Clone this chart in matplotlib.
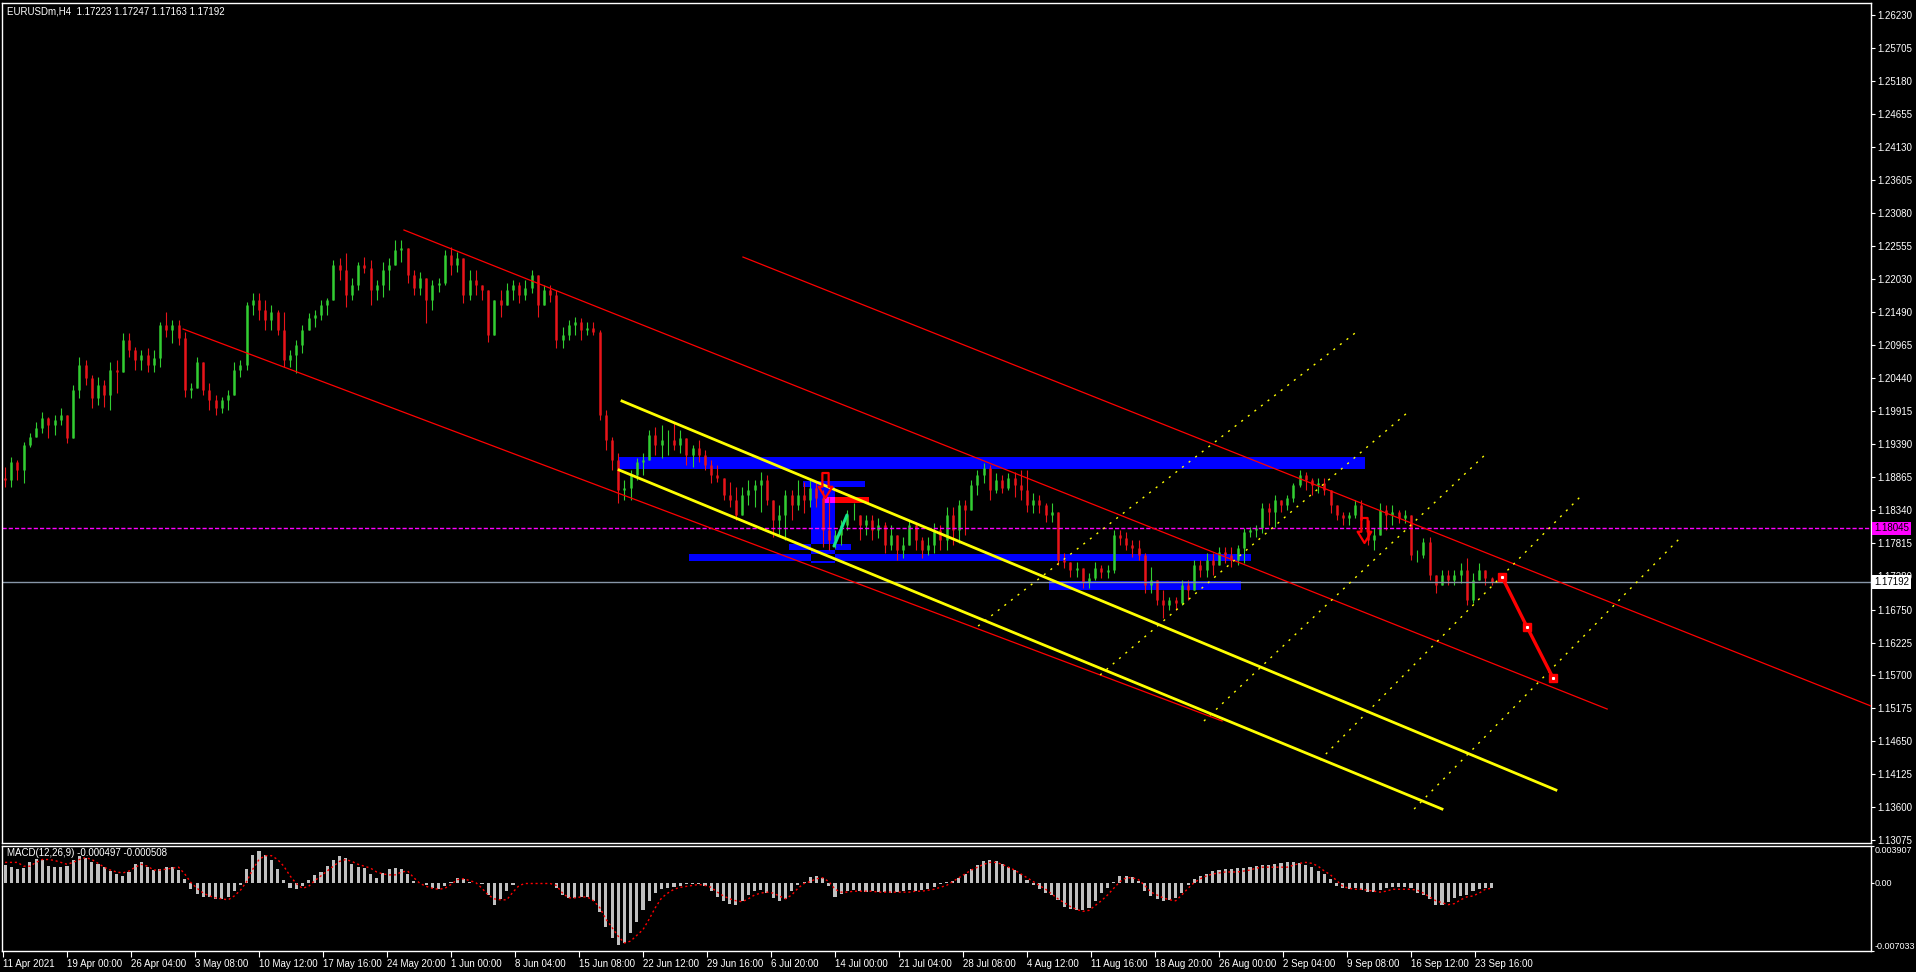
import numpy as np
import matplotlib
matplotlib.use("Agg")
import matplotlib.pyplot as plt
from matplotlib.colors import to_rgb
from matplotlib.patches import Rectangle
from matplotlib.path import Path
from matplotlib.transforms import blended_transform_factory

plt.rcParams['font.family'] = ['Liberation Sans', 'DejaVu Sans']

# ---- data (EURUSDm H4, each candle = 3 H4 bars, prices in pips) ----
first_open = 11885
highs = [11903, 11918, 11914, 11942, 11957, 11974, 11990, 11982, 11985, 11997,
         11977, 12033, 12078, 12073, 12049, 12046, 12041, 12070, 12073, 12116,
         12116, 12094, 12089, 12092, 12089, 12134, 12150, 12137, 12137, 12118,
         12037, 12078, 12065, 12037, 12017, 12014, 12025, 12070, 12073, 12166,
         12180, 12180, 12169, 12161, 12153, 12150, 12089, 12105, 12129, 12148,
         12153, 12169, 12172, 12233, 12236, 12244, 12204, 12230, 12238, 12233,
         12201, 12230, 12236, 12265, 12265, 12245, 12217, 12214, 12201, 12201,
         12204, 12249, 12253, 12245, 12228, 12217, 12217, 12193, 12185, 12169,
         12185, 12196, 12201, 12198, 12201, 12217, 12193, 12193, 12193, 12185,
         12126, 12137, 12142, 12140, 12134, 12134, 12121, 11993, 11950, 11925,
         11882, 11898, 11917, 11925, 11962, 11966, 11970, 11962, 11973, 11962,
         11946, 11938, 11946, 11930, 11914, 11906, 11882, 11879, 11871, 11871,
         11882, 11882, 11895, 11890, 11834, 11842, 11866, 11866, 11882, 11879,
         11882, 11879, 11866, 11855, 11802, 11818, 11834, 11845, 11826, 11826,
         11826, 11821, 11815, 11810, 11791, 11791, 11818, 11815, 11791, 11791,
         11813, 11810, 11839, 11839, 11850, 11850, 11882, 11898, 11909, 11906,
         11893, 11890, 11893, 11895, 11898, 11898, 11861, 11858, 11845, 11845,
         11823, 11765, 11751, 11751, 11733, 11733, 11751, 11746, 11746, 11802,
         11802, 11799, 11786, 11786, 11765, 11743, 11722, 11706, 11695, 11695,
         11722, 11722, 11754, 11754, 11765, 11765, 11775, 11775, 11775, 11778,
         11805, 11807, 11810, 11845, 11845, 11858, 11850, 11858, 11877, 11898,
         11895, 11885, 11885, 11885, 11861, 11842, 11831, 11831, 11850, 11850,
         11818, 11805, 11845, 11842, 11842, 11834, 11834, 11826, 11770, 11789,
         11791, 11730, 11738, 11738, 11738, 11749, 11757, 11733, 11749, 11738, 11727]
lows = [11871, 11871, 11882, 11877, 11934, 11950, 11957, 11949, 11954, 11970,
        11941, 11954, 12013, 12033, 11997, 12001, 11998, 11993, 12021, 12068,
        12078, 12057, 12057, 12054, 12054, 12062, 12110, 12100, 12097, 12014,
        12013, 12030, 12017, 11993, 11985, 11989, 11993, 12021, 12046, 12057,
        12145, 12137, 12121, 12121, 12113, 12062, 12062, 12052, 12084, 12126,
        12126, 12137, 12145, 12169, 12201, 12158, 12169, 12185, 12212, 12161,
        12169, 12174, 12185, 12225, 12230, 12196, 12177, 12177, 12132, 12153,
        12182, 12193, 12209, 12214, 12164, 12169, 12177, 12169, 12102, 12113,
        12142, 12164, 12169, 12164, 12169, 12180, 12142, 12166, 12166, 12092,
        12092, 12105, 12113, 12105, 12113, 12113, 11977, 11930, 11898, 11845,
        11850, 11850, 11882, 11890, 11914, 11922, 11917, 11922, 11930, 11925,
        11906, 11903, 11911, 11898, 11877, 11879, 11850, 11839, 11818, 11826,
        11842, 11839, 11831, 11842, 11791, 11794, 11786, 11818, 11834, 11829,
        11839, 11839, 11775, 11770, 11773, 11778, 11802, 11818, 11786, 11794,
        11786, 11789, 11765, 11770, 11754, 11757, 11778, 11770, 11757, 11762,
        11765, 11770, 11770, 11778, 11781, 11794, 11839, 11858, 11877, 11850,
        11861, 11861, 11866, 11855, 11850, 11831, 11829, 11829, 11815, 11815,
        11746, 11741, 11727, 11727, 11709, 11709, 11722, 11725, 11725, 11733,
        11778, 11770, 11759, 11754, 11701, 11701, 11682, 11662, 11674, 11674,
        11682, 11690, 11706, 11727, 11727, 11730, 11749, 11749, 11743, 11746,
        11749, 11791, 11791, 11797, 11810, 11807, 11831, 11834, 11847, 11871,
        11866, 11858, 11861, 11858, 11829, 11818, 11810, 11810, 11821, 11805,
        11778, 11770, 11794, 11802, 11810, 11813, 11813, 11754, 11751, 11757,
        11722, 11701, 11714, 11714, 11714, 11717, 11682, 11686, 11722, 11714, 11714]
closes = [11882, 11911, 11898, 11938, 11950, 11965, 11981, 11970, 11977, 11985,
          11949, 12025, 12065, 12044, 12013, 12033, 12017, 12057, 12054, 12105,
          12089, 12073, 12081, 12065, 12076, 12129, 12121, 12129, 12108, 12025,
          12029, 12070, 12025, 12009, 11997, 12009, 12017, 12057, 12065, 12161,
          12169, 12153, 12137, 12150, 12121, 12073, 12081, 12097, 12121, 12140,
          12145, 12161, 12169, 12225, 12217, 12177, 12193, 12225, 12220, 12185,
          12193, 12217, 12225, 12249, 12252, 12209, 12188, 12204, 12169, 12193,
          12196, 12241, 12225, 12236, 12177, 12201, 12193, 12185, 12113, 12169,
          12161, 12185, 12193, 12177, 12188, 12209, 12161, 12185, 12177, 12105,
          12113, 12129, 12134, 12121, 12124, 12118, 11985, 11946, 11914, 11866,
          11869, 11890, 11911, 11914, 11954, 11938, 11946, 11946, 11938, 11949,
          11922, 11933, 11922, 11906, 11890, 11885, 11858, 11850, 11826, 11858,
          11866, 11874, 11882, 11850, 11818, 11826, 11858, 11842, 11858, 11850,
          11869, 11853, 11802, 11786, 11794, 11810, 11826, 11826, 11810, 11818,
          11802, 11810, 11778, 11794, 11770, 11778, 11810, 11786, 11770, 11778,
          11802, 11786, 11826, 11802, 11842, 11834, 11874, 11890, 11901, 11866,
          11882, 11869, 11885, 11874, 11866, 11842, 11850, 11842, 11826, 11831,
          11754, 11751, 11738, 11741, 11719, 11725, 11741, 11735, 11738, 11794,
          11789, 11778, 11773, 11762, 11714, 11722, 11690, 11682, 11690, 11686,
          11714, 11706, 11746, 11738, 11754, 11746, 11767, 11762, 11754, 11773,
          11799, 11802, 11805, 11837, 11831, 11850, 11842, 11853, 11874, 11890,
          11882, 11874, 11877, 11866, 11842, 11826, 11821, 11826, 11842, 11818,
          11786, 11794, 11834, 11826, 11831, 11821, 11826, 11762, 11762, 11783,
          11730, 11714, 11730, 11722, 11730, 11738, 11690, 11722, 11738, 11725, 11719]

# MACD histogram and signal, units of 1e-4
macd_hist = [19, 17, 15, 16, 22, 26, 24, 18, 17, 17,
             18, 24, 29, 27, 22, 20, 17, 13, 10, 8,
             12, 20, 22, 17, 14, 15, 17, 17, 14, 5,
             -6, -11, -14, -14, -16, -16, -14, -8, -2, 15,
             30, 34, 30, 24, 15, 4, -5, -6, -3, 4,
             9, 12, 18, 25, 29, 27, 20, 17, 16, 10,
             6, 11, 15, 16, 15, 10, 3, 0, -2, -5,
             -6, -3, 2, 6, 5, 2, 1, -1, -12, -22,
             -16, -8, -2, 1, 1, 1, 0, 1, 1, -5,
             -12, -15, -15, -14, -14, -18, -30, -45, -57, -64,
             -62, -52, -40, -28, -18, -10, -6, -5, -4, -3,
             -1, -1, -1, -3, -8, -14, -18, -21, -22, -18,
             -12, -8, -7, -10, -15, -18, -16, -8, -2, 2,
             7, 8, 6, -3, -14, -11, -8, -7, -8, -9,
             -8, -9, -9, -10, -9, -8, -7, -8, -7, -6,
             -4, -1, 2, 3, 6, 10, 15, 19, 23, 24,
             23, 20, 17, 14, 10, 4, -2, -6, -10, -12,
             -17, -24, -27, -28, -28, -26, -18, -10, -5, 2,
             8, 8, 7, 3, -8, -13, -16, -18, -17, -15,
             -10, -2, 5, 8, 10, 13, 14, 15, 15, 16,
             16, 17, 18, 19, 19, 20, 21, 22, 22, 21,
             19, 17, 13, 10, 5, -3, -5, -6, -5, -7,
             -9, -9, -7, -5, -4, -4, -4, -5, -10, -12,
             -16, -22, -22, -19, -15, -13, -12, -8, -6, -5, -5]
macd_signal = [22, 22, 22, 18, 18, 22, 25, 25, 24, 22,
               20, 22, 25, 27, 25, 21, 17, 14, 12, 11,
               13, 17, 20, 18, 14, 14, 15, 16, 17, 10,
               1, -5, -10, -13, -15, -16, -17, -13, -7, 2,
               15, 25, 29, 29, 25, 18, 8, 0, -5, -3,
               3, 8, 13, 18, 23, 25, 23, 20, 18, 16,
               12, 10, 9, 9, 12, 13, 6, 0, -3, -5,
               -6, -5, -1, 4, 5, 3, 1, -5, -12, -16,
               -17, -17, -9, -2, 0, 0, 0, 0, 0, -2,
               -10, -15, -15, -14, -14, -18, -25, -37, -46, -55,
               -62, -60, -54, -48, -37, -25, -15, -10, -6, -4,
               -3, -2, -1, -2, -4, -9, -13, -16, -18, -19,
               -16, -12, -10, -9, -10, -13, -16, -12, -5, 0,
               2, 5, 6, 2, -6, -9, -9, -8, -8, -8,
               -8, -9, -9, -9, -9, -9, -9, -8, -8, -7,
               -6, -4, -2, 2, 6, 10, 14, 17, 20, 22,
               22, 20, 17, 14, 10, 6, 2, -2, -6, -11,
               -16, -20, -24, -27, -29, -28, -23, -18, -12, -5,
               2, 6, 6, 4, -2, -9, -12, -15, -17, -18,
               -12, -5, 1, 5, 8, 10, 11, 12, 12, 12,
               13, 14, 16, 17, 17, 17, 17, 17, 19, 21,
               22, 21, 18, 13, 9, 3, -3, -5, -6, -6,
               -7, -8, -9, -8, -6, -6, -6, -6, -7, -10,
               -14, -18, -20, -22, -21, -17, -14, -13, -10, -6, -5]

date_bars = [0, 31, 62, 93, 124, 155, 186, 217, 248, 279, 310, 341,
             372, 403, 434, 465, 496, 527, 558, 589, 620, 651, 682, 713]
date_labels = ["11 Apr 2021", "19 Apr 00:00", "26 Apr 04:00", "3 May 08:00",
               "10 May 12:00", "17 May 16:00", "24 May 20:00", "1 Jun 00:00",
               "8 Jun 04:00", "15 Jun 08:00", "22 Jun 12:00", "29 Jun 16:00",
               "6 Jul 20:00", "14 Jul 00:00", "21 Jul 04:00", "28 Jul 08:00",
               "4 Aug 12:00", "11 Aug 16:00", "18 Aug 20:00", "26 Aug 00:00",
               "2 Sep 04:00", "9 Sep 08:00", "16 Sep 12:00", "23 Sep 16:00"]
price_ticks = [1.26230, 1.25705, 1.25180, 1.24655, 1.24130, 1.23605, 1.23080,
               1.22555, 1.22030, 1.21490, 1.20965, 1.20440, 1.19915, 1.19390,
               1.18865, 1.18340, 1.17815, 1.17280, 1.16750, 1.16225, 1.15700,
               1.15175, 1.14650, 1.14125, 1.13600, 1.13075]

# trendlines: (bar0, price0, bar1, price1)
red_lines = [(87.2, 1.21226, 590.5, 1.14973),
             (194.2, 1.22805, 777.0, 1.15164),
             (358.4, 1.22374, 904.8, 1.15212)]
yellow_lines = [(299.8, 1.20077, 752.2, 1.13872),
                (298.4, 1.18977, 697.0, 1.13569)]
yellow_dotted = [(472.3, 1.16488, 656.8, 1.21210),
                 (531.4, 1.15707, 680.6, 1.19902),
                 (581.7, 1.14973, 719.3, 1.19264),
                 (637.9, 1.14351, 764.8, 1.18578),
                 (683.5, 1.13569, 812.3, 1.17892)]
green_line = (402.5, 1.17764, 408.8, 1.18259)
path_bars = [726.1, 738.2, 750.8]
path_prices = [1.17270, 1.16472, 1.15659]

# rectangles: (bar0, bar1, price_low, price_high, colour)
rects = [(298.4, 659.7, 1.18993, 1.19184, '#0000ff'),
         (332.3, 604.5, 1.17525, 1.17637, '#0000ff'),
         (506.7, 599.7, 1.17063, 1.17206, '#0000ff'),
         (391.4, 403.0, 1.17493, 1.18706, '#0000ff'),
         (387.5, 417.5, 1.18706, 1.18801, '#0000ff'),
         (380.7, 410.8, 1.17701, 1.17796, '#0000ff'),
         (397.2, 419.5, 1.18450, 1.18546, '#ff0000')]
arrow_bars = [398.2, 659.2]
arrow_prices = [1.18745, 1.18020]

level_magenta = 1.18045
level_bid = 1.17192

# ---- figure ----
W, H = 1916, 972
fig = plt.figure(figsize=(W / 100, H / 100), dpi=100, facecolor='black')
ax = fig.add_axes([2 / W, 1 - 843 / H, 1869 / W, 840 / H])
axm = fig.add_axes([2 / W, 1 - 951 / H, 1869 / W, 105 / H])
for a in (ax, axm):
    a.set_facecolor('black')
    for s in a.spines.values():
        s.set_color('white')
        s.set_linewidth(1)
    a.set_xlim(-0.5, 904.8)

ax.set_ylim(1.13027, 1.26426)
axm.set_ylim(-0.007033, 0.003907)

# rectangles, overlaps shown like MT4 (xor of colours)
for x0, x1, y0, y1, c in rects:
    ax.add_patch(Rectangle((x0, y0), x1 - x0, y1 - y0, facecolor=c, edgecolor='none', zorder=1))
for i in range(len(rects)):
    for j in range(i + 1, len(rects)):
        a, b = rects[i], rects[j]
        ix0, ix1 = max(a[0], b[0]), min(a[1], b[1])
        iy0, iy1 = max(a[2], b[2]), min(a[3], b[3])
        if ix1 > ix0 and iy1 > iy0:
            ca = [int(round(v * 255)) for v in to_rgb(a[4])]
            cb = [int(round(v * 255)) for v in to_rgb(b[4])]
            cx = tuple((p ^ q) / 255 for p, q in zip(ca, cb))
            ax.add_patch(Rectangle((ix0, iy0), ix1 - ix0, iy1 - iy0, facecolor=cx,
                                   edgecolor='none', zorder=1.1))

# candles
c = np.array(closes) / 1e4
hi = np.array(highs) / 1e4
lo = np.array(lows) / 1e4
o = np.r_[first_open / 1e4, c[:-1]]
xs = np.arange(len(c)) * 3 + 1
up = c >= o
cols = np.where(up, '#32cd32', '#e8141a')
hi = np.maximum(hi, np.maximum(o, c))
lo = np.minimum(lo, np.minimum(o, c))
ax.vlines(xs, lo, hi, colors=cols, lw=0.8, zorder=2)
ax.vlines(xs, np.minimum(o, c), np.maximum(o, c), colors=cols, lw=1.8, zorder=2)

# horizontal levels
ax.axhline(level_magenta, color='#ff00ff', lw=1, ls=(0, (3, 1.5)), zorder=2.5)
ax.axhline(level_bid, color='#8796a8', lw=1, zorder=2.5)

# lines
for x0, y0, x1, y1 in red_lines:
    ax.plot([x0, x1], [y0, y1], color='#ff0000', lw=0.9, zorder=3)
for x0, y0, x1, y1 in yellow_lines:
    ax.plot([x0, x1], [y0, y1], color='#ffff00', lw=2.0, zorder=3)
for x0, y0, x1, y1 in yellow_dotted:
    ax.plot([x0, x1], [y0, y1], color='#ffff00', lw=1.0, ls=(0, (1.5, 4.5)), zorder=3)
ax.plot(green_line[0::2], green_line[1::2], color='#14e68c', lw=2.2, zorder=3,
        solid_capstyle='round')
ax.plot(path_bars, path_prices, color='#ff0000', lw=2.4, zorder=3.5)
ax.plot(path_bars, path_prices, ls='none', marker='s', ms=6, color='#ff0000', zorder=3.6)
ax.plot(path_bars, path_prices, ls='none', marker='s', ms=1.2, color='white', zorder=3.7)

# hollow down arrows
arrow = Path([(-0.25, 1), (0.25, 1), (0.25, -0.1), (0.55, -0.1), (0, -1),
              (-0.55, -0.1), (-0.25, -0.1), (-0.25, 1)], closed=True)
ax.plot(arrow_bars, arrow_prices, ls='none', marker=arrow, ms=18, mfc='none',
        mec='#ff0000', mew=1.6, zorder=4)

# price axis
ax.yaxis.tick_right()
ax.set_yticks(price_ticks)
ax.set_yticklabels([f"{v:.5f}" for v in price_ticks])
ax.tick_params(axis='y', direction='out', length=3, width=0.8, colors='white',
               labelsize=7, pad=1.5)
ax.tick_params(axis='x', bottom=False, labelbottom=False)

tr = blended_transform_factory(ax.transAxes, ax.transData)
ax.text(1.0 + 3 / 1869, level_bid, f"{level_bid:.5f}", transform=tr, color='black',
        fontsize=7, va='center', ha='left', clip_on=False, zorder=10,
        bbox=dict(facecolor='white', edgecolor='none', pad=1.2))
ax.text(1.0 + 3 / 1869, level_magenta, f"{level_magenta:.5f}", transform=tr, color='black',
        fontsize=7, va='center', ha='left', clip_on=False, zorder=10,
        bbox=dict(facecolor='#ff00ff', edgecolor='none', pad=1.2))

# MACD
mh = np.array(macd_hist) * 1e-4
ms = np.array(macd_signal) * 1e-4
axm.bar(xs, mh, width=1.5, color='#c0c0c0', lw=0, zorder=2)
axm.plot(xs, ms, color='#ff0000', lw=1, ls=(0, (1.5, 2)), zorder=3)
axm.yaxis.tick_right()
axm.set_yticks([-0.007033, 0.0, 0.003907])
axm.set_yticklabels(['-0.007033', '0.00', '0.003907'])
for lab, va in zip(axm.get_yticklabels(), ['bottom', 'center', 'top']):
    lab.set_va(va)
axm.tick_params(axis='y', direction='out', length=2, width=0.8, colors='white',
                labelsize=6.5, pad=0.5)
axm.set_xticks(date_bars)
axm.set_xticklabels(date_labels, ha='left')
axm.tick_params(axis='x', direction='out', length=4, width=0.8, colors='white',
                labelsize=7, pad=2)

# header texts
fig.text(7 / W, 1 - 11 / H, "EURUSDm,H4  1.17223 1.17247 1.17163 1.17192",
         color='white', fontsize=7, va='center', ha='left')
fig.text(7 / W, 1 - 853 / H, "MACD(12,26,9) -0.000497 -0.000508",
         color='white', fontsize=7, va='center', ha='left')

fig.savefig("out.png", dpi=100, facecolor='black')
